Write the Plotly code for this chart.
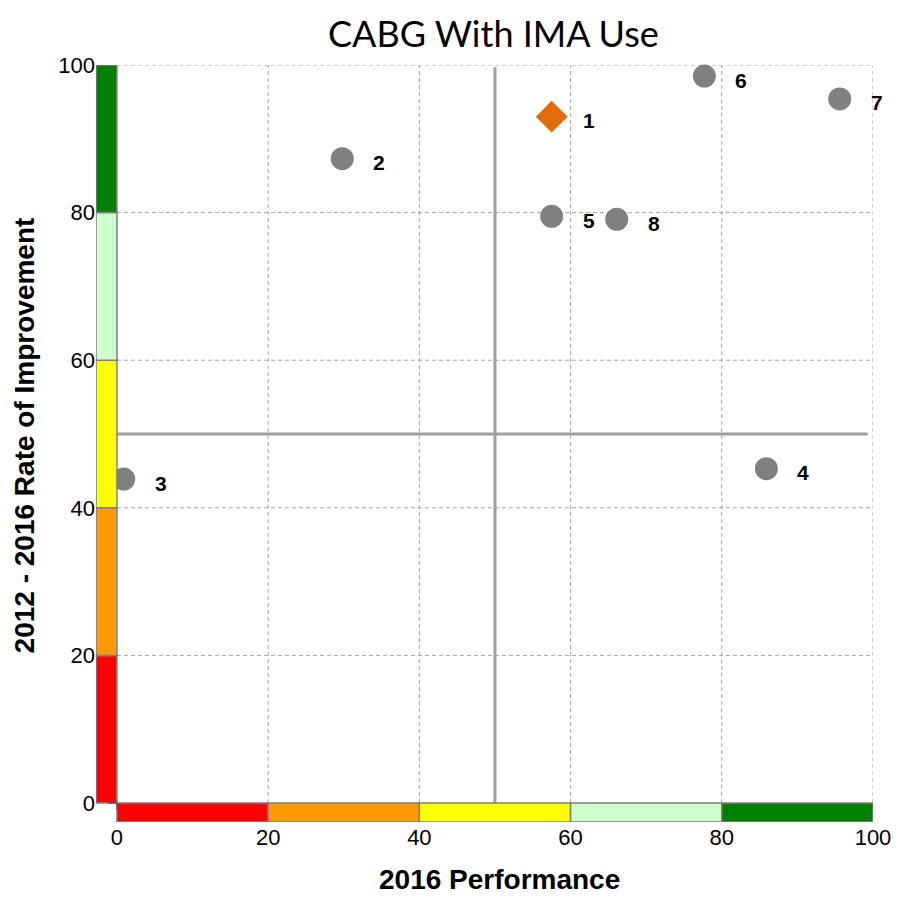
import plotly.graph_objects as go

labels = ["1", "2", "3", "4", "5", "6", "7", "8"]
perf = [57.5, 29.8, 0.9, 85.9, 57.5, 77.7, 95.6, 66.1]
improve = [93.0, 87.3, 43.9, 45.3, 79.5, 98.5, 95.4, 79.1]
highlight = "1"

band_edges = [0, 20, 40, 60, 80, 100]
band_colors = ["#ff0000", "#ff9900", "#ffff00", "#ccffcc", "#008000"]
ticks = [0, 20, 40, 60, 80, 100]

XMIN, YMIN = -2.77, -2.57
FONT = "Liberation Sans, Arial, sans-serif"

fig = go.Figure()

gx = [p for p, l in zip(perf, labels) if l != highlight]
gy = [v for v, l in zip(improve, labels) if l != highlight]
hx = [p for p, l in zip(perf, labels) if l == highlight]
hy = [v for v, l in zip(improve, labels) if l == highlight]

fig.add_trace(go.Scatter(x=gx, y=gy, mode="markers",
                         marker=dict(color="#808080", size=23, line=dict(width=0)),
                         showlegend=False, cliponaxis=False, hoverinfo="skip"))
fig.add_trace(go.Scatter(x=hx, y=hy, mode="markers",
                         marker=dict(color="#e36c09", size=24.5, symbol="diamond", line=dict(width=0)),
                         showlegend=False, cliponaxis=False, hoverinfo="skip"))

shapes = []
grid = dict(color="#a6a6a6", width=1, dash="4px,3px")
for t in ticks[1:]:
    shapes.append(dict(type="line", xref="x", yref="y", x0=0, x1=100, y0=t, y1=t, line=grid, layer="below"))
    shapes.append(dict(type="line", xref="x", yref="y", x0=t, x1=t, y0=0, y1=100, line=grid, layer="below"))
# median lines
shapes.append(dict(type="line", xref="x", yref="y", x0=0, x1=99.3, y0=50, y1=50,
                   line=dict(color="#a0a0a0", width=3), layer="below"))
shapes.append(dict(type="line", xref="x", yref="y", x0=50, x1=50, y0=0, y1=99.7,
                   line=dict(color="#a0a0a0", width=3), layer="below"))
# color bands
for i, c in enumerate(band_colors):
    shapes.append(dict(type="rect", xref="x", yref="y", x0=XMIN, x1=0,
                       y0=band_edges[i], y1=band_edges[i + 1], fillcolor=c,
                       line=dict(color="#808080", width=1.5), layer="above"))
    shapes.append(dict(type="rect", xref="x", yref="y", y0=YMIN, y1=0,
                       x0=band_edges[i], x1=band_edges[i + 1], fillcolor=c,
                       line=dict(color="#808080", width=1.5), layer="above"))
# tiny origin tick
shapes.append(dict(type="line", xref="x", yref="y", x0=-1.2, x1=0, y0=0, y1=0,
                   line=dict(color="#404040", width=1), layer="above"))
shapes.append(dict(type="line", xref="x", yref="y", x0=0, x1=0, y0=0, y1=-0.9,
                   line=dict(color="#404040", width=1), layer="above"))

annotations = []
for l, x, y in zip(labels, perf, improve):
    annotations.append(dict(x=x, y=y, xref="x", yref="y", text="<b>%s</b>" % l, showarrow=False,
                            xshift=37, yshift=-4,
                            font=dict(family=FONT, size=21, color="#000000")))
annotations.append(dict(x=0.519, y=-0.0766, xref="paper", yref="paper",
                        text="<b>2016 Performance</b>", showarrow=False,
                        xanchor="center", yanchor="middle",
                        font=dict(family=FONT, size=28, color="#000000")))
annotations.append(dict(x=-0.0924, y=0.511, xref="paper", yref="paper",
                        text="<b>2012 - 2016 Rate of Improvement</b>", showarrow=False,
                        textangle=-90, xanchor="center", yanchor="middle",
                        font=dict(family=FONT, size=28, color="#000000")))
annotations.append(dict(x=0.512, y=1.074, xref="paper", yref="paper",
                        text="CABG With IMA Use", showarrow=False,
                        xanchor="center", yanchor="top",
                        font=dict(family="Lato, Open Sans, sans-serif", size=36, color="#000000")))

fig.update_layout(
    width=895, height=890,
    margin=dict(l=88, r=25, t=57, b=76),
    paper_bgcolor="white", plot_bgcolor="white",
    shapes=shapes,
    annotations=annotations,
    xaxis=dict(range=[XMIN, 100], tickvals=ticks, ticktext=[str(t) for t in ticks],
               showgrid=False, zeroline=False, showline=False, ticks="",
               tickfont=dict(family=FONT, size=22, color="#000000")),
    yaxis=dict(range=[YMIN, 100], tickvals=ticks, ticktext=[str(t) for t in ticks],
               showgrid=False, zeroline=False, showline=False, ticks="",
               tickfont=dict(family=FONT, size=22, color="#000000")),
)

fig.write_html("out.html")
